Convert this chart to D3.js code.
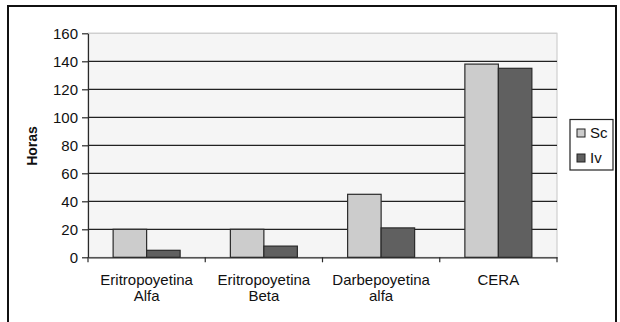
<!DOCTYPE html>
<html><head><meta charset="utf-8">
<script src="https://cdn.jsdelivr.net/npm/d3@7"></script>
<style>body{margin:0;background:#fff}svg{display:block}text{font-family:"Liberation Sans",Arial,sans-serif}</style>
</head><body>
<svg id="c" width="620" height="322"></svg>
<script>
const categories = [["Eritropoyetina","Alfa"],["Eritropoyetina","Beta"],["Darbepoyetina","alfa"],["CERA"]];
const seriesNames = ["Sc","Iv"];
const scValues = [20, 20, 45, 138];
const ivValues = [5, 8, 21, 135];
const yTicks = [0,20,40,60,80,100,120,140,160];
const colors = {Sc:"#cccccc", Iv:"#606060"};

const svg = d3.select("#c");
const L=88, R=557, T=33.3, B=257.3;
const catKeys = categories.map(c=>c.join(" "));
const x0 = d3.scaleBand().domain(catKeys).range([L,R]).paddingInner(0).paddingOuter(0);
const x1 = d3.scaleBand().domain(seriesNames).range([0,x0.bandwidth()]).paddingInner(0).paddingOuter(0.75);
const y = d3.scaleLinear().domain([0,160]).range([B,T]);

// outer frame
svg.append("rect").attr("x",8).attr("y",6).attr("width",608).attr("height",330)
  .attr("fill","none").attr("stroke","#111").attr("stroke-width",2);

// plot area
svg.append("rect").attr("x",L).attr("y",T).attr("width",R-L).attr("height",B-T)
  .attr("fill","#f5f5f5").attr("stroke","#cfcfcf").attr("stroke-width",1.2);

// gridlines
svg.append("g").selectAll("line").data(yTicks.filter(d=>d>0)).join("line")
  .attr("x1",L).attr("x2",R).attr("y1",d=>y(d)).attr("y2",d=>y(d))
  .attr("stroke", d=>d===160?"#cfcfcf":"#222").attr("stroke-width",1.3);

// bars
const data = categories.map((c,i)=>({key:catKeys[i], vals:[{s:"Sc",v:scValues[i]},{s:"Iv",v:ivValues[i]}]}));
const g = svg.append("g").selectAll("g").data(data).join("g")
  .attr("transform",d=>`translate(${x0(d.key)},0)`);
g.selectAll("rect").data(d=>d.vals).join("rect")
  .attr("x",d=>x1(d.s)).attr("width",x1.bandwidth())
  .attr("y",d=>y(d.v)).attr("height",d=>B-y(d.v))
  .attr("fill",d=>colors[d.s]).attr("stroke","#2a2a2a").attr("stroke-width",1.2);

// y axis
const ya = svg.append("g").attr("transform",`translate(${L},0)`)
  .call(d3.axisLeft(y).tickValues(yTicks).tickSize(6).tickPadding(4).tickSizeOuter(0));
ya.select(".domain").attr("stroke","#2a2a2a").attr("stroke-width",1.2);
ya.selectAll(".tick line").attr("stroke","#2a2a2a").attr("stroke-width",1.2);
ya.selectAll(".tick text").attr("font-size",15).attr("fill","#111").attr("font-family","Liberation Sans, Arial, sans-serif");

// x axis
const xa = svg.append("g").attr("transform",`translate(0,${B})`)
  .call(d3.axisBottom(x0).tickValues([]).tickSizeOuter(0));
xa.select(".domain").attr("stroke","#2a2a2a").attr("stroke-width",1.2);
const bounds = catKeys.map(k=>x0(k)).concat([R]);
svg.append("g").selectAll("line").data(bounds).join("line")
  .attr("x1",d=>d).attr("x2",d=>d).attr("y1",B).attr("y2",B+5)
  .attr("stroke","#2a2a2a").attr("stroke-width",1.2);

// category labels
const lab = svg.append("g").selectAll("text").data(data.map((d,i)=>({key:d.key, lines:categories[i]}))).join("text")
  .attr("x",d=>x0(d.key)+x0.bandwidth()/2).attr("y",285)
  .attr("text-anchor","middle").attr("font-size",15).attr("fill","#111");
lab.selectAll("tspan").data(d=>d.lines.map(t=>({t,x:x0(d.key)+x0.bandwidth()/2}))).join("tspan")
  .attr("x",d=>d.x).attr("dy",(d,i)=>i===0?0:15.5).text(d=>d.t);

// y title
svg.append("text").attr("transform","translate(36.5,146) rotate(-90)")
  .attr("text-anchor","middle").attr("font-size",14).attr("font-weight","bold").attr("fill","#111").text("Horas");

// legend
const lg = svg.append("g");
lg.append("rect").attr("x",570).attr("y",119.5).attr("width",43).attr("height",50.5)
  .attr("fill","#fff").attr("stroke","#222").attr("stroke-width",1.2);
const items = lg.selectAll("g").data(seriesNames).join("g")
  .attr("transform",(d,i)=>`translate(577,${129+i*25})`);
items.append("rect").attr("width",8).attr("height",8)
  .attr("fill",d=>colors[d]).attr("stroke","#222").attr("stroke-width",1);
items.append("text").attr("x",13).attr("y",9).attr("font-size",15).attr("fill","#111").text(d=>d);
</script>
</body></html>
